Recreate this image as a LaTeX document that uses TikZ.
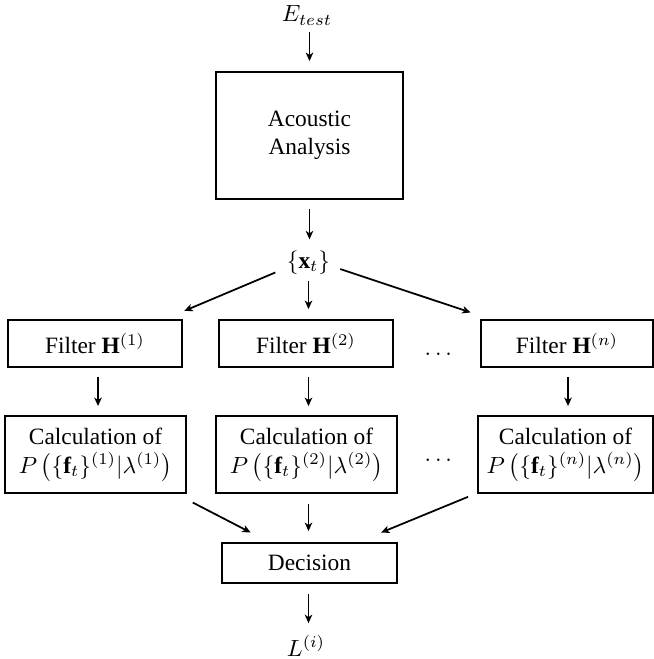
\documentclass[tikz,border=0pt]{standalone}
\usepackage{fontspec}
\setmainfont{Liberation Serif}
\usepackage{amsmath}
\usetikzlibrary{arrows.meta}
\def\pxu{0.4274pt}
\begin{document}
\begin{tikzpicture}[x=0.4274pt,y=-0.4274pt,
  box/.style={draw, line width=0.8pt, align=center, inner sep=0pt},
  lab/.style={inner sep=0pt},
  arr/.style={-{Stealth[length=3.6pt,width=3.2pt,inset=1pt]}, line width=0.75pt}]
\useasboundingbox (0,0) rectangle (654,659);
% nodes
\node[lab, anchor=base] (e) at (307,22) {$E_{test}$};
\node[box, minimum width=187*\pxu, minimum height=127*\pxu] (ac) at (309.5,135.5) {Acoustic\\Analysis};
\node[lab] (x) at (308.5,262.5) {$\{\mathbf{x}_t\}$};
\node[box, minimum width=174*\pxu, minimum height=47*\pxu] (f1) at (95,343.5) {Filter $\mathbf{H}^{(1)}$};
\node[box, minimum width=174*\pxu, minimum height=47*\pxu] (f2) at (306,343.5) {Filter $\mathbf{H}^{(2)}$};
\node[box, minimum width=172*\pxu, minimum height=47*\pxu] (fn) at (567,343.5) {Filter $\mathbf{H}^{(n)}$};
\node[lab, anchor=base] (d1) at (438.3,355.5) {$\ldots$};
\node[box, minimum width=181*\pxu, minimum height=77*\pxu] (c1) at (95.5,454.5) {Calculation of\\[0.5pt]$P\left(\{\mathbf{f}_t\}^{(1)}|\lambda^{(1)}\right)$};
\node[box, minimum width=181*\pxu, minimum height=77*\pxu] (c2) at (306.5,454.5) {Calculation of\\[0.5pt]$P\left(\{\mathbf{f}_t\}^{(2)}|\lambda^{(2)}\right)$};
\node[box, minimum width=175*\pxu, minimum height=77*\pxu] (cn) at (565.5,454.5) {Calculation of\\[0.5pt]$P\left(\{\mathbf{f}_t\}^{(n)}|\lambda^{(n)}\right)$};
\node[lab, anchor=base] (d2) at (438.3,461.5) {$\ldots$};
\node[box, minimum width=175*\pxu, minimum height=40*\pxu] (d) at (309.5,563) {Decision};
\node[lab] (l) at (306,646) {$L^{(i)}$};
% connectors
\draw[arr, shorten <=6.5*\pxu, shorten >=10*\pxu] (ac.north |- e.south) -- (ac.north);
\draw[arr, shorten <=9*\pxu, shorten >=11*\pxu] (ac.south) -- (ac.south |- x.north);
\draw[arr, shorten <=36*\pxu, shorten >=21*\pxu] ([yshift=4*\pxu]x.center) -- ([xshift=-18*\pxu]f1.north east);
\draw[arr, shorten <=6*\pxu, shorten >=10*\pxu] (x.south) -- (x.south |- f2.north);
\draw[arr, shorten <=33.5*\pxu, shorten >=21*\pxu] ([yshift=4*\pxu]x.center) -- ([xshift=10.5*\pxu]fn.north west);
\draw[arr, shorten <=9*\pxu, shorten >=9*\pxu] ([xshift=3*\pxu]f1.south) -- ([xshift=3*\pxu]f1.south |- c1.north);
\draw[arr, shorten <=9*\pxu, shorten >=9*\pxu] (x.south |- f2.south) -- (x.south |- c2.north);
\draw[arr, shorten <=9*\pxu, shorten >=9*\pxu] ([xshift=1*\pxu]fn.south) -- ([xshift=1*\pxu]fn.south |- cn.north);
\draw[arr, shorten <=18.7*\pxu, shorten >=20.8*\pxu] ([xshift=-10.8*\pxu]c1.south east) -- ([xshift=48.1*\pxu]d.north west);
\draw[arr, shorten <=10*\pxu, shorten >=11*\pxu] (x.south |- c2.south) -- (x.south |- d.north);
\draw[arr, shorten <=7.6*\pxu, shorten >=25*\pxu] ([xshift=-2*\pxu]cn.south west) -- ([xshift=-40*\pxu]d.north east);
\draw[arr, shorten <=10*\pxu, shorten >=12*\pxu] (x.south |- d.south) -- (x.south |- l.north);
\end{tikzpicture}
\end{document}
